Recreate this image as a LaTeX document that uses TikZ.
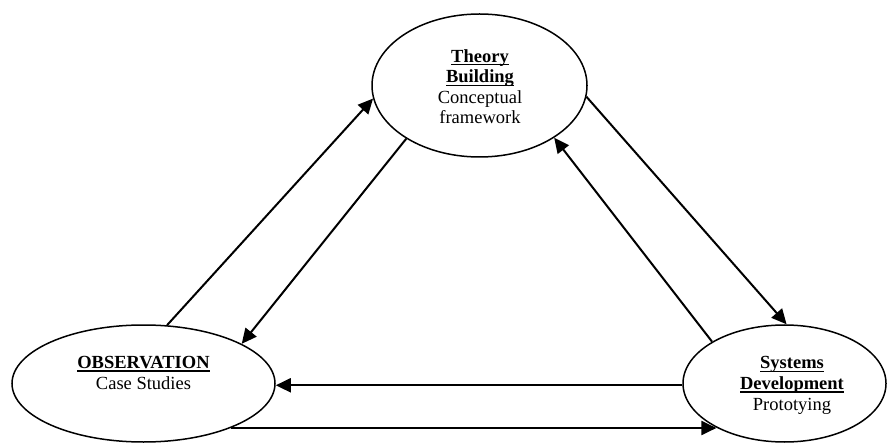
\documentclass[tikz,border=0pt]{standalone}
\usepackage{fontspec}
\setmainfont{Liberation Serif}
\usetikzlibrary{arrows.meta,shapes.geometric}
% underline at a fixed depth, crossing descenders like a word processor does
\newcommand\wordul[1]{\setbox0\hbox{#1}\rlap{\rule[-3.2pt]{\wd0}{1.4pt}}\box0}
\begin{document}
\begin{tikzpicture}[x=1pt,y=-1pt,
  bubble/.style={draw, ellipse, line width=1.5pt, inner sep=0pt},
  bubbletext/.style={align=center, inner sep=0pt,
    font=\fontsize{18.5}{20.6}\selectfont},
  flow/.style={line width=2pt, -{Triangle[length=15pt,width=14pt]}}]
\useasboundingbox (0,0) rectangle (888,443);

% the three stages
\node[bubble, minimum width=215pt, minimum height=143pt] (tb)  at (479.5,85.5)  {};
\node[bubble, minimum width=263pt, minimum height=117pt] (obs) at (143.5,383.5) {};
\node[bubble, minimum width=203pt, minimum height=117pt] (sys) at (784.5,383.5) {};

% text blocks, placed by the baseline of their last line
\node[bubbletext, anchor=base] (tbtext) at (480,124)
  {\textbf{\wordul{Theory}}\\\textbf{\wordul{Building}}\\Conceptual\\framework};
\node[bubbletext, anchor=base] (obstext) at (143.5,389)
  {\textbf{\wordul{OBSERVATION}}\\Case Studies};
\node[bubbletext, anchor=base] (systext) at (792,410)
  {\textbf{\wordul{Systems}}\\\textbf{\wordul{Development}}\\Prototying};

% links between the stages
\draw[flow] (obs.68)  -- (tb.187);
\draw[flow] (tb.216)  -- (obs.22);
\draw[flow] (tb.354)  -- (sys.88);
\draw[flow] (sys.150) -- (tb.325);
\draw[flow] (sys.181) -- (obs.east |- sys.181);
\draw[flow] (obs.333) -- (sys.213 |- obs.333);
\end{tikzpicture}
\end{document}
